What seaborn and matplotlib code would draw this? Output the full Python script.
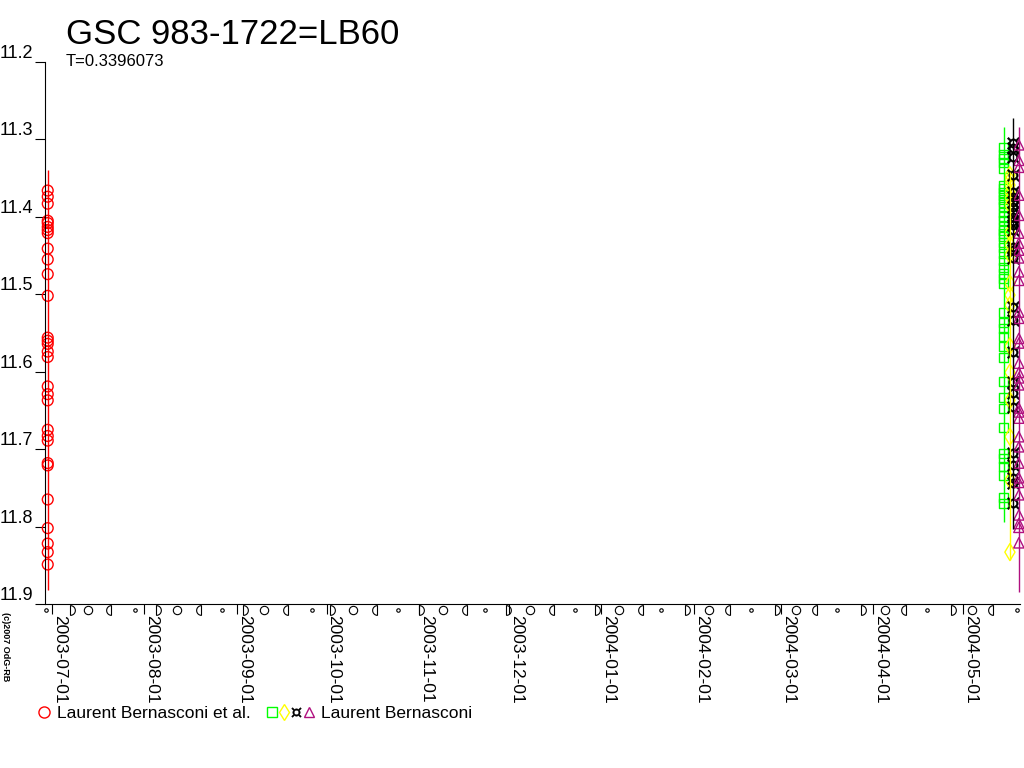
import numpy as np
import pandas as pd
import matplotlib
matplotlib.use("Agg")
import matplotlib.pyplot as plt
from matplotlib.lines import Line2D
from matplotlib.legend_handler import HandlerTuple
import seaborn as sns

title = "GSC 983-1722=LB60"
subtitle = "T=0.3396073"
credit = "(c)2007 OdG-RB"

red_date = "2003-06-29 16:00"
red_mag = [11.366, 11.374, 11.383, 11.405, 11.408, 11.413, 11.417, 11.421, 11.441,
           11.455, 11.474, 11.502, 11.556, 11.560, 11.564, 11.574, 11.581, 11.619,
           11.629, 11.637, 11.675, 11.683, 11.689, 11.718, 11.721, 11.765, 11.802,
           11.822, 11.833, 11.849]

green_date = "2004-05-14 17:00"
green_mag = [11.310, 11.319, 11.325, 11.330, 11.338, 11.359, 11.363, 11.368, 11.373,
             11.377, 11.381, 11.387, 11.394, 11.400, 11.405, 11.412, 11.417, 11.421,
             11.426, 11.433, 11.439, 11.447, 11.456, 11.466, 11.473, 11.480, 11.486,
             11.524, 11.537, 11.544, 11.555, 11.568, 11.581, 11.613, 11.633, 11.647,
             11.672, 11.705, 11.712, 11.723, 11.734, 11.763, 11.770]

yellow_date = "2004-05-16 17:00"
yellow_mag = [11.346, 11.352, 11.359, 11.368, 11.376, 11.385, 11.420, 11.436, 11.449,
              11.486, 11.501, 11.514, 11.567, 11.601, 11.637, 11.684, 11.740, 11.833]

black_date = "2004-05-17 17:00"
black_mag = [11.305, 11.311, 11.323, 11.346, 11.368, 11.374, 11.381, 11.387, 11.394,
             11.400, 11.405, 11.411, 11.417, 11.439, 11.443, 11.453, 11.517, 11.533,
             11.575, 11.613, 11.628, 11.646, 11.705, 11.721, 11.737, 11.744, 11.770]

magenta_date = "2004-05-19 17:00"
magenta_mag = [11.307, 11.327, 11.336, 11.372, 11.398, 11.421, 11.434, 11.443, 11.453,
               11.471, 11.482, 11.523, 11.531, 11.557, 11.563, 11.589, 11.601, 11.608,
               11.617, 11.647, 11.652, 11.660, 11.684, 11.697, 11.718, 11.737, 11.743,
               11.759, 11.785, 11.796, 11.801, 11.821]

# extent of the vertical line drawn for each series
line_dates = [red_date, green_date, yellow_date, black_date, magenta_date]
line_top = [11.340, 11.284, 11.342, 11.272, 11.284]
line_bottom = [11.882, 11.794, 11.843, 11.803, 11.885]
line_colors = ["red", "#00ff00", "#ffff00", "black", "#b0107f"]

# axis
month_ticks = ["2003-07-01", "2003-08-01", "2003-09-01", "2003-10-01", "2003-11-01",
               "2003-12-01", "2004-01-01", "2004-02-01", "2004-03-01", "2004-04-01",
               "2004-05-01"]
mag_ticks = [11.2, 11.3, 11.4, 11.5, 11.6, 11.7, 11.8, 11.9]
mag_labels = ["11.2", "11.3", "11.4", "11.5", "11.6", "11.7", "11.8", "11.9"]

# moon phases along the time axis
new_moon = ["2003-06-29", "2003-07-29", "2003-08-27", "2003-09-26", "2003-10-25",
            "2003-11-23", "2003-12-23", "2004-01-21", "2004-02-20", "2004-03-20",
            "2004-04-19", "2004-05-19"]
first_quarter = ["2003-07-07", "2003-08-05", "2003-09-03", "2003-10-02", "2003-11-01",
                 "2003-11-30", "2003-12-30", "2004-01-29", "2004-02-28", "2004-03-28",
                 "2004-04-27"]
full_moon = ["2003-07-13", "2003-08-12", "2003-09-10", "2003-10-10", "2003-11-09",
             "2003-12-08", "2004-01-07", "2004-02-06", "2004-03-06", "2004-04-05",
             "2004-05-04"]
last_quarter = ["2003-07-21", "2003-08-20", "2003-09-18", "2003-10-18", "2003-11-17",
                "2003-12-16", "2004-01-15", "2004-02-13", "2004-03-13", "2004-04-12",
                "2004-05-11"]

sns.set_style("ticks")
plt.rcParams["font.family"] = ["Liberation Sans", "DejaVu Sans"]
plt.rcParams["text.color"] = "black"
plt.rcParams["xtick.color"] = "black"
plt.rcParams["ytick.color"] = "black"
plt.rcParams["xtick.labelcolor"] = "black"
plt.rcParams["ytick.labelcolor"] = "black"

fig = plt.figure(figsize=(10.24, 7.68), dpi=100)
ax = fig.add_axes([45 / 1024, 1 - 604 / 768, 975 / 1024, 542 / 768])

ax.vlines(pd.to_datetime(line_dates), line_top, line_bottom, colors=line_colors,
          linewidth=1, clip_on=False)

def series(date, mags):
    return pd.DataFrame({"date": pd.to_datetime([date] * len(mags)), "mag": mags})

sns.scatterplot(data=series(red_date, red_mag), x="date", y="mag", ax=ax, marker="o", s=60,
                facecolor="none", edgecolor="red", linewidth=1, clip_on=False)
sns.scatterplot(data=series(green_date, green_mag), x="date", y="mag", ax=ax, marker="s", s=42,
                facecolor="none", edgecolor="#00ff00", linewidth=1, clip_on=False)
sns.scatterplot(data=series(yellow_date, yellow_mag), x="date", y="mag", ax=ax, marker="d", s=75,
                facecolor="none", edgecolor="#ffff00", linewidth=1, clip_on=False)
sns.scatterplot(data=series(black_date, black_mag), x="date", y="mag", ax=ax, marker="$¤$", s=80,
                color="black", edgecolor="black", linewidth=0.3, clip_on=False)
sns.scatterplot(data=series(magenta_date, magenta_mag), x="date", y="mag", ax=ax, marker="^", s=55,
                facecolor="none", edgecolor="#b0107f", linewidth=1, clip_on=False)

# moon phase symbols under the axis
arc = np.linspace(-np.pi / 2, np.pi / 2, 17)
fq_marker = np.column_stack([np.cos(arc), np.sin(arc)]).tolist() + [[0, -1]]
lq_marker = [[-x, y] for x, y in fq_marker]
xt = ax.get_xaxis_transform()
moon_y = -0.011
ax.plot(pd.to_datetime(new_moon), [moon_y] * len(new_moon), transform=xt, ls="none", marker="o",
        ms=2.5, mfc="none", mec="black", mew=0.8, clip_on=False)
ax.plot(pd.to_datetime(first_quarter), [moon_y] * len(first_quarter), transform=xt, ls="none",
        marker=fq_marker, ms=7, mfc="none", mec="black", mew=0.8, clip_on=False)
ax.plot(pd.to_datetime(full_moon), [moon_y] * len(full_moon), transform=xt, ls="none", marker="o",
        ms=6, mfc="none", mec="black", mew=0.8, clip_on=False)
ax.plot(pd.to_datetime(last_quarter), [moon_y] * len(last_quarter), transform=xt, ls="none",
        marker=lq_marker, ms=7, mfc="none", mec="black", mew=0.8, clip_on=False)

ax.set_xlim(pd.Timestamp("2003-06-28 18:00"), pd.Timestamp("2004-05-20 02:00"))
ax.set_ylim(11.9, 11.2)
ax.set_xticks(pd.to_datetime(month_ticks))
ax.set_xticklabels(month_ticks, rotation=-90, ha="left", va="bottom",
                   rotation_mode="anchor", fontsize=12.5)
ax.set_yticks(mag_ticks)
ax.set_yticklabels(mag_labels, va="bottom", fontsize=13)
ax.tick_params(axis="y", direction="out", length=7.5, width=0.8, pad=1, colors="black")
ax.tick_params(axis="x", direction="out", length=7, width=0.8, pad=1, colors="black")
ax.set_xlabel("")
ax.set_ylabel("")
for side in ["top", "right"]:
    ax.spines[side].set_visible(False)
for side in ["left", "bottom"]:
    ax.spines[side].set_color("black")
    ax.spines[side].set_linewidth(0.8)

fig.text(66 / 1024, 1 - 44 / 768, title, fontsize=25, ha="left", va="baseline")
fig.text(66 / 1024, 1 - 66 / 768, subtitle, fontsize=12, ha="left", va="baseline")
fig.text(1 / 1024, 1 - 612 / 768, credit, fontsize=6.5, fontweight="bold",
         rotation=-90, ha="left", va="top")

# legend
h_red = Line2D([], [], ls="none", marker="o", ms=8, mfc="none", mec="red", mew=1)
h_g = Line2D([], [], ls="none", marker="s", ms=6.5, mfc="none", mec="#00ff00", mew=1)
h_y = Line2D([], [], ls="none", marker="d", ms=8, mfc="none", mec="#ffff00", mew=1)
h_k = Line2D([], [], ls="none", marker="$¤$", ms=7, color="black", mew=0.3)
h_m = Line2D([], [], ls="none", marker="^", ms=7, mfc="none", mec="#b0107f", mew=1)
leg_y = 1 - 713 / 768
fig.legend([h_red], ["Laurent Bernasconi et al."], loc="center left",
           bbox_to_anchor=(37 / 1024, leg_y), frameon=False, fontsize=12.5,
           handlelength=0.8, handletextpad=0.35, borderpad=0, borderaxespad=0)
fig.legend([(h_g, h_y, h_k, h_m)], ["Laurent Bernasconi"], loc="center left",
           handler_map={tuple: HandlerTuple(ndivide=None, pad=0)},
           bbox_to_anchor=(266 / 1024, leg_y), frameon=False, fontsize=12.5,
           handlelength=2.8, handletextpad=0.35, borderpad=0, borderaxespad=0)

fig.savefig("out.png", dpi=100, facecolor="white")
